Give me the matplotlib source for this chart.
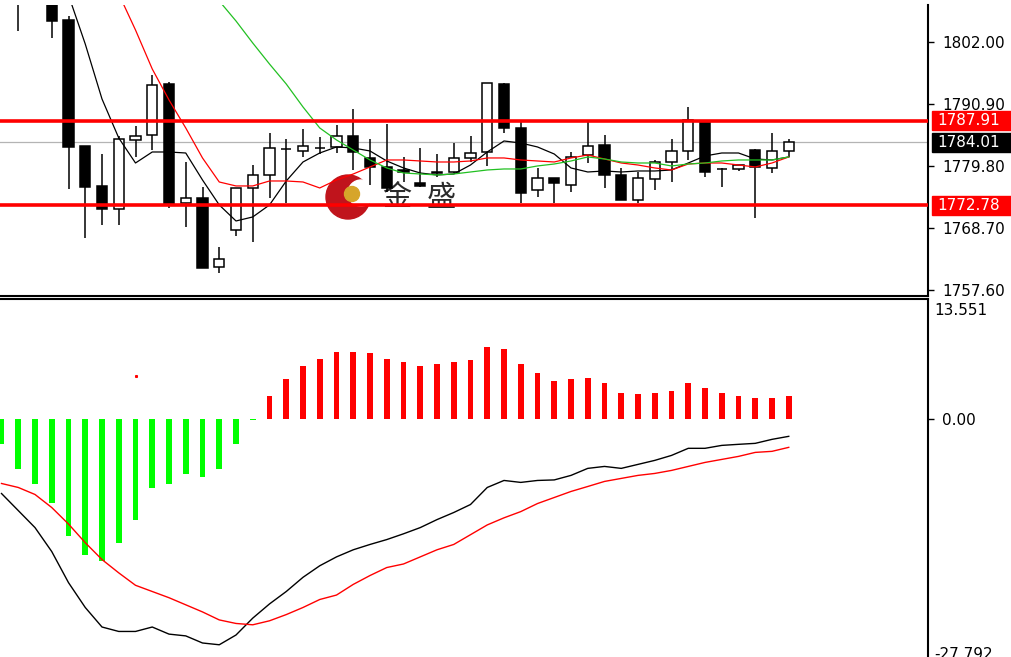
import numpy as np
import matplotlib
matplotlib.use('Agg')
import matplotlib.pyplot as plt
import matplotlib.transforms as mtrans
from matplotlib.patches import Circle, Rectangle

nan = np.nan

# candles (oldest first)
OPEN = [1818.5, 1815.0, 1811.0, 1810.0, 1805.94, 1783.38, 1776.22, 1772.10, 1784.46, 1785.35,
        1794.48, 1773.18, 1774.07, 1761.72, 1768.34, 1775.86, 1778.19, 1782.80, 1782.49, 1782.95,
        1783.20, 1785.17, 1781.23, 1779.62, 1779.09, 1776.76, 1778.73, 1778.73, 1781.23, 1782.31,
        1794.48, 1786.60, 1775.51, 1777.65, 1776.40, 1781.77, 1783.56, 1778.19, 1773.72, 1777.47,
        1780.52, 1782.49, 1787.68, 1779.30, 1779.26, 1782.67, 1779.44, 1782.49]
HIGH = [1820.0, 1817.5, 1816.0, 1811.0, 1806.65, 1783.38, 1781.95, 1785.17, 1786.96, 1796.09,
        1794.84, 1780.52, 1776.04, 1765.30, 1775.86, 1779.98, 1785.71, 1784.64, 1786.43, 1784.99,
        1787.14, 1790.01, 1784.64, 1787.32, 1781.41, 1783.02, 1781.95, 1783.92, 1785.17, 1794.66,
        1794.66, 1787.68, 1779.44, 1777.65, 1782.31, 1787.68, 1785.35, 1779.44, 1778.73, 1780.88,
        1784.64, 1790.36, 1787.68, 1779.44, 1779.98, 1782.85, 1785.71, 1784.64]
LOW = [1813.0, 1803.97, 1810.2, 1802.72, 1775.68, 1766.91, 1769.24, 1769.24, 1781.41, 1782.67,
       1772.28, 1768.88, 1761.54, 1760.65, 1767.27, 1766.20, 1774.07, 1773.18, 1781.41, 1781.95,
       1782.13, 1779.09, 1776.40, 1775.15, 1776.94, 1776.04, 1777.83, 1778.55, 1780.52, 1779.80,
       1785.71, 1773.18, 1774.25, 1773.18, 1775.15, 1780.34, 1775.86, 1773.72, 1773.18, 1775.51,
       1776.94, 1780.88, 1777.83, 1776.04, 1778.91, 1770.49, 1778.55, 1781.41]
CLOSE = [1814.0, 1811.0, 1814.5, 1805.76, 1783.20, 1776.04, 1772.10, 1784.64, 1785.17, 1794.30,
         1772.82, 1774.07, 1761.54, 1763.15, 1775.86, 1778.19, 1783.02, 1782.90, 1783.38, 1783.05,
         1785.17, 1782.31, 1779.62, 1775.86, 1778.73, 1776.22, 1778.55, 1781.23, 1782.13, 1794.66,
         1786.60, 1774.97, 1777.65, 1776.76, 1781.41, 1783.38, 1778.19, 1773.72, 1777.65, 1780.52,
         1782.49, 1788.04, 1778.73, 1779.20, 1779.98, 1779.62, 1782.49, 1784.01]

MA_FAST = [nan, nan, nan, 1816.7, 1810.4, 1801.64, 1791.80, 1784.82, 1780.34, 1782.31,
           1782.31, 1782.13, 1777.30, 1772.83, 1769.96, 1770.68, 1772.83, 1777.12, 1780.52, 1782.13,
           1783.21, 1783.03, 1782.49, 1780.70, 1779.45, 1778.55, 1778.20, 1778.37, 1779.98, 1782.31,
           1784.28, 1783.92, 1783.21, 1781.95, 1779.45, 1778.73, 1778.91, 1778.73, 1778.91, 1778.91,
           1779.09, 1780.34, 1781.60, 1782.13, 1782.13, 1781.06, 1780.88, 1781.42]
MA_MID = [nan, nan, nan, nan, nan, nan, 1817.0, 1810.6, 1804.15, 1797.17,
          1791.62, 1786.61, 1781.24, 1776.94, 1776.23, 1776.23, 1777.12, 1777.12, 1776.94, 1775.87,
          1777.30, 1778.37, 1779.63, 1780.88, 1780.88, 1780.70, 1780.52, 1780.52, 1780.70, 1781.24,
          1781.24, 1780.88, 1780.70, 1780.52, 1781.24, 1781.77, 1781.06, 1780.34, 1779.98, 1779.45,
          1779.09, 1780.16, 1780.34, 1780.34, 1779.98, 1779.63, 1780.34, 1781.42]
MA_SLOW = [nan] * 12 + [1813.1, 1809.34, 1805.76, 1801.82, 1798.06, 1794.48, 1790.37, 1786.61,
           1784.46, 1782.67, 1780.88, 1779.45, 1778.55, 1778.37, 1778.20, 1778.37, 1778.73, 1779.09,
           1779.27, 1779.27, 1779.81, 1780.16, 1780.70, 1781.42, 1781.06, 1780.52, 1780.34, 1780.34,
           1779.81, 1780.16, 1780.34, 1780.70, 1780.88, 1780.88, 1780.88, 1781.42]

RESISTANCE = 1787.91
SUPPORT = 1772.78
LAST = 1784.01
PRICE_TICKS = [1757.60, 1768.70, 1779.80, 1790.90, 1802.00]

# MACD panel
HIST = [-2.82, -5.65, -7.34, -9.41, -13.1, -15.25, -16.0, -13.97, -11.3, -7.71,
        -7.34, -6.21, -6.47, -5.65, -2.82, -0.1, 2.63, 4.5, 6.0, 6.8,
        7.6, 7.6, 7.45, 6.8, 6.4, 6.0, 6.2, 6.47, 6.66, 8.1,
        7.9, 6.2, 5.16, 4.33, 4.5, 4.7, 4.07, 3.0, 2.82, 3.0,
        3.24, 4.07, 3.47, 3.0, 2.63, 2.4, 2.4, 2.63]
DIF = [-8.36, -10.28, -12.2, -14.9, -18.4, -21.2, -23.4, -23.9, -23.9, -23.4,
       -24.2, -24.4, -25.2, -25.4, -24.3, -22.4, -20.8, -19.4, -17.8, -16.5,
       -15.5, -14.7, -14.1, -13.55, -12.9, -12.2, -11.3, -10.5, -9.6, -7.68,
       -6.89, -7.11, -6.89, -6.83, -6.32, -5.53, -5.31, -5.53, -5.08, -4.63,
       -4.07, -3.27, -3.27, -2.94, -2.82, -2.71, -2.26, -1.92]
DEA = [-7.23, -7.68, -8.47, -9.94, -11.8, -13.9, -15.8, -17.3, -18.7, -19.4,
       -20.1, -20.9, -21.7, -22.6, -23.0, -23.15, -22.7, -22.0, -21.2, -20.3,
       -19.8, -18.6, -17.6, -16.7, -16.3, -15.5, -14.7, -14.1, -13.0, -11.9,
       -11.1, -10.4, -9.49, -8.81, -8.13, -7.57, -7.0, -6.66, -6.32, -6.10,
       -5.76, -5.31, -4.86, -4.52, -4.18, -3.73, -3.61, -3.16]
MACD_MAX = 13.551
MACD_MIN = -27.792

W, H = 1011, 657


def px_box(x0, y0, x1, y1):
    return [x0 / W, 1 - y1 / H, (x1 - x0) / W, (y1 - y0) / H]


fig = plt.figure(figsize=(W / 100, H / 100), dpi=100)
fig.patch.set_facecolor('white')

# watermark layer (behind the chart)
ov = fig.add_axes([0, 0, 1, 1], zorder=0)
ov.set_xlim(0, W)
ov.set_ylim(H, 0)
ov.axis('off')
ov.add_patch(Circle((348, 197), 22, color='#c0141c'))
ov.add_patch(Circle((361, 193), 13, color='white'))
ov.add_patch(Circle((352, 194), 7.5, color='#d6a52a'))
ov.text(397, 198, '金', fontsize=21, family=['Noto Sans CJK SC', 'DejaVu Sans'],
        color='#2b2b2b', ha='center', va='center')
ov.text(441, 198, '盛', fontsize=21, family=['Noto Sans CJK SC', 'DejaVu Sans'],
        color='#2b2b2b', ha='center', va='center')

ax = fig.add_axes(px_box(0, 5, 928, 296), zorder=1)
ax2 = fig.add_axes(px_box(0, 299, 928, 666), zorder=1)
xlo, xhi = -1.5 / 16.75, (928 - 1.5) / 16.75

o = np.array(OPEN)
h = np.array(HIGH)
l = np.array(LOW)
c = np.array(CLOSE)
x = np.arange(len(o))

ax.set_facecolor('none')
ax.axhline(LAST, color='#b4b4b4', lw=0.9, zorder=1)
ax.vlines(x, l, h, color='black', lw=1.1, zorder=3)
body_bottom = np.minimum(o, c)
body_h = np.maximum(np.abs(c - o), 0.12)
body_col = np.where(c < o, 'black', 'white')
ax.bar(x, body_h, bottom=body_bottom, width=0.6, color=body_col,
       edgecolor='black', linewidth=1.1, zorder=4)
ax.plot(x, MA_FAST, color='black', lw=0.9, zorder=5)
ax.plot(x, MA_MID, color='#ff0000', lw=0.9, zorder=5)
ax.plot(x, MA_SLOW, color='#22c022', lw=0.9, zorder=5)
ax.axhline(RESISTANCE, color='#ff0000', lw=2.6, zorder=6)
ax.axhline(SUPPORT, color='#ff0000', lw=2.6, zorder=6)

ax.set_xlim(xlo, xhi)
ax.set_ylim(1802 - 291 / 5.586 + 37 / 5.586, 1802 + 37 / 5.586)
ax.set_xticks([])
ax.yaxis.tick_right()
ax.set_yticks(PRICE_TICKS)
ax.set_yticklabels([f'{v:.2f}' for v in PRICE_TICKS])
ax.tick_params(axis='y', direction='out', length=4, width=1, pad=6, labelsize=11)
for s in ['left', 'top']:
    ax.spines[s].set_visible(False)
ax.spines['right'].set_linewidth(1.5)
ax.spines['bottom'].set_linewidth(1.5)

trans = mtrans.blended_transform_factory(ax.transAxes, ax.transData)
for val, fc in [(RESISTANCE, '#ff0000'), (LAST, 'black'), (SUPPORT, '#ff0000')]:
    ax.add_patch(Rectangle((932 / 928, val - 1.7), 79 / 928, 3.4, transform=trans,
                           clip_on=False, fc=fc, ec=fc, zorder=10))
    ax.text(937 / 928, val, f'{val:.2f}', transform=trans, color='white', va='center',
            ha='left', fontsize=11, zorder=11, clip_on=False)

# MACD
hist = np.array(HIST)
ax2.set_facecolor('none')
ax2.bar(x, hist, width=0.33, color=np.where(hist >= 0, '#ff0000', '#00ff00'), zorder=2)
ax2.plot(x, DIF, color='black', lw=1.0, zorder=3)
ax2.plot(x, DEA, color='#ff0000', lw=1.0, zorder=3)
ax2.plot([8], [4.86], marker='s', ms=1.2, color='#ff0000', lw=0)
ax2.set_xlim(xlo, xhi)
ax2.set_ylim(MACD_MIN, MACD_MAX)
ax2.set_xticks([])
ax2.yaxis.tick_right()
ax2.set_yticks([0.0, -27.2])
ax2.set_yticklabels(['0.00', ''])
ax2.tick_params(axis='y', direction='out', length=4, width=1, pad=6, labelsize=11)
for s in ['left', 'bottom']:
    ax2.spines[s].set_visible(False)
ax2.spines['right'].set_linewidth(1.5)
ax2.spines['top'].set_linewidth(1.5)
t2 = mtrans.blended_transform_factory(ax2.transAxes, ax2.transData)
ax2.text(934 / 928, 12.2, f'{MACD_MAX:.3f}', transform=t2, va='center', ha='left',
         fontsize=11, clip_on=False)
ax2.text(934 / 928, -25.6, f'{MACD_MIN:.3f}', transform=t2, va='top', ha='left',
         fontsize=11, clip_on=False)

fig.savefig('out.png', dpi=100, facecolor='white')
